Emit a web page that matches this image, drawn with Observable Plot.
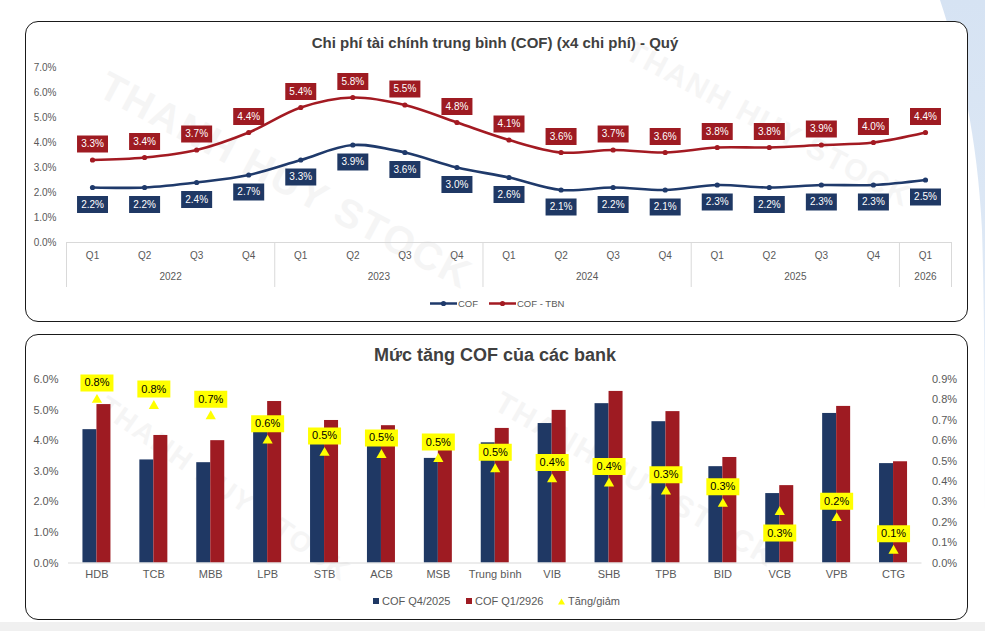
<!DOCTYPE html>
<html><head><meta charset="utf-8">
<script src="https://cdn.jsdelivr.net/npm/d3@7"></script>
<script src="https://cdn.jsdelivr.net/npm/@observablehq/plot@0.6"></script>
<style>
html,body{margin:0;padding:0;background:#fff;overflow:hidden;}
#wrap{position:relative;width:985px;height:631px;overflow:hidden;font-family:"Liberation Sans",Arial,sans-serif;}
.panel{position:absolute;background:#fff;border:1.5px solid #1a1a1a;border-radius:13px;box-sizing:border-box;overflow:hidden;}
.abs{position:absolute;}
.title{position:absolute;font-weight:bold;color:#404040;white-space:nowrap;transform:translate(-50%,-50%);}
.wm{position:absolute;font-weight:bold;color:#f5f5f5;font-size:40px;white-space:nowrap;transform-origin:0 0;letter-spacing:2px;}
.leg{position:absolute;color:#595959;white-space:nowrap;transform:translateY(-50%);}
</style></head>
<body><div id="wrap">
<svg class="abs" style="left:0;top:0" width="985" height="631">
  <defs><linearGradient id="bg1" x1="0" y1="0" x2="0" y2="1">
    <stop offset="0" stop-color="#d6e3f3"/><stop offset="0.7" stop-color="#e3ecf7"/><stop offset="1" stop-color="#ffffff"/></linearGradient></defs>
  <path d="M940,0 C960,60 978,140 982,230 C985,330 985,450 985,600 L985,0 Z" fill="url(#bg1)"/>
</svg>
<div class="panel" style="left:25px;top:21px;width:943px;height:301px;">
  <div class="wm" style="left:87px;top:41px;transform:rotate(28deg);">THANH HUY STOCK</div>
  <div class="wm" style="left:610px;top:12px;transform:rotate(28deg);font-size:30px;">THANH HUY STOCK</div>
</div>
<div class="panel" style="left:25px;top:334px;width:943px;height:286px;">
  <div class="wm" style="left:85px;top:55px;transform:rotate(35deg);font-size:28px;">THANH HUY STOCK</div>
  <div class="wm" style="left:480px;top:50px;transform:rotate(30deg);font-size:30px;">THANH HUY STOCK</div>
</div>
<div class="abs" style="left:0;top:622px;width:985px;height:9px;background:#f0f0f0;"></div>
<div id="top"></div>
<div id="bottom"></div>
<div class="title" style="left:495px;top:42px;font-size:15px;">Chi phí tài chính trung bình (COF) (x4 chi phí) - Quý</div>
<div class="title" style="left:495px;top:355px;font-size:18px;">Mức tăng COF của các bank</div>
</div>
<script>
// ---------- Data: top chart ----------
const periods = ["2022-Q1","2022-Q2","2022-Q3","2022-Q4","2023-Q1","2023-Q2","2023-Q3","2023-Q4",
  "2024-Q1","2024-Q2","2024-Q3","2024-Q4","2025-Q1","2025-Q2","2025-Q3","2025-Q4","2026-Q1"];
const cof    = [2.2,2.2,2.4,2.7,3.3,3.9,3.6,3.0,2.6,2.1,2.2,2.1,2.3,2.2,2.3,2.3,2.5];
const cofTbn = [3.3,3.4,3.7,4.4,5.4,5.8,5.5,4.8,4.1,3.6,3.7,3.6,3.8,3.8,3.9,4.0,4.4];
const topTicks = [0,1,2,3,4,5,6,7];

// ---------- Data: bottom chart ----------
const banks  = ["HDB","TCB","MBB","LPB","STB","ACB","MSB","Trung bình","VIB","SHB","TPB","BID","VCB","VPB","CTG"];
const cofQ4  = [4.36,3.37,3.28,4.68,4.12,3.96,3.42,3.93,4.56,5.21,4.62,3.15,2.27,4.89,3.25];
const cofQ1  = [5.18,4.17,4.00,5.28,4.66,4.49,3.93,4.40,4.99,5.61,4.95,3.45,2.53,5.12,3.31];
const change = [0.80,0.77,0.72,0.60,0.54,0.53,0.51,0.46,0.41,0.39,0.35,0.29,0.25,0.22,0.06];
const labelBelow = ["VCB"];
const leftTicks  = [0,1,2,3,4,5,6];
const rightTicks = [0,0.1,0.2,0.3,0.4,0.5,0.6,0.7,0.8,0.9];
const RMAX = 0.9, LMAX = 6;

const BLUE = "#1f3864", RED = "#9e1b22", LBLUE = "#1f3a6b", LRED = "#a31a22", YEL = "#ffff00";
const boxSym = (w,h) => ({draw(ctx){ctx.moveTo(-w/2,-h/2);ctx.lineTo(w/2,-h/2);ctx.lineTo(w/2,h/2);ctx.lineTo(-w/2,h/2);ctx.closePath();}});

// ---------- Top chart ----------
const topData = periods.map((p,i)=>({p, cof: cof[i], tbn: cofTbn[i]}));
const years = Array.from(new Set(periods.map(p=>p.slice(0,4))));
const yearInfo = years.map(y=>{const qs = periods.filter(p=>p.startsWith(y)); return {y, qs};});
const TW = 985, TH = 300, TL = 66, TR = 34, TT = 67, TB = 58;
const bwTop = (TW-TL-TR)/periods.length;
const fmt1 = d => d.toFixed(1)+"%";

const topPlot = Plot.plot({
  width: TW, height: TH, marginLeft: TL, marginRight: TR, marginTop: TT, marginBottom: TB,
  style: {background:"transparent", overflow:"visible", color:"#595959", fontFamily:"Liberation Sans, Arial, sans-serif"},
  x: {type:"band", domain: periods, padding: 0, round: false, axis: null},
  y: {domain:[0,7], axis: null},
  marks: [
    Plot.axisY(topTicks, {tickSize:0, tickPadding:10, tickFormat: fmt1, fontSize:10, label:null}),
    Plot.ruleY([0], {stroke:"#d9d9d9", strokeWidth:1}),
    Plot.ruleX(yearInfo, {x: d=>d.qs[0], dx: -bwTop/2, insetTop: TH-TT-TB, insetBottom: -45, stroke:"#d9d9d9"}),
    Plot.ruleX([periods[periods.length-1]], {x: d=>d, dx: bwTop/2, insetTop: TH-TT-TB, insetBottom: -45, stroke:"#d9d9d9"}),
    Plot.text(periods, {x: d=>d, text: d=>d.slice(5), frameAnchor:"bottom", dy: 16, fontSize:10, fill:"#595959"}),
    Plot.text(yearInfo.filter(d=>d.qs.length%2===0), {x: d=>d.qs[d.qs.length/2-1], dx: bwTop/2, text: d=>d.y, frameAnchor:"bottom", dy: 37, fontSize:10, fill:"#595959"}),
    Plot.text(yearInfo.filter(d=>d.qs.length%2===1), {x: d=>d.qs[(d.qs.length-1)/2], text: d=>d.y, frameAnchor:"bottom", dy: 37, fontSize:10, fill:"#595959"}),
    Plot.line(topData, {x:"p", y:"tbn", stroke: LRED, strokeWidth: 2.6, curve:"catmull-rom"}),
    Plot.line(topData, {x:"p", y:"cof", stroke: LBLUE, strokeWidth: 2.6, curve:"catmull-rom"}),
    Plot.dot(topData, {x:"p", y:"tbn", r: 2.6, fill: LRED}),
    Plot.dot(topData, {x:"p", y:"cof", r: 2.6, fill: LBLUE}),
    Plot.dot(topData, {x:"p", y:"tbn", symbol: boxSym(31,17), r: 5, fill: RED, dy: -16}),
    Plot.text(topData, {x:"p", y:"tbn", text: d=>fmt1(d.tbn), fill:"#fff", fontSize:10, dy: -16}),
    Plot.dot(topData, {x:"p", y:"cof", symbol: boxSym(31,17), r: 5, fill: BLUE, dy: 17}),
    Plot.text(topData, {x:"p", y:"cof", text: d=>fmt1(d.cof), fill:"#fff", fontSize:10, dy: 17})
  ]
});
topPlot.style.position = "absolute"; topPlot.style.top = "0px"; topPlot.style.left = "0px";
document.getElementById("top").appendChild(topPlot);

// ---------- Bottom chart ----------
const botData = banks.map((b,i)=>({b, q4: cofQ4[i], q1: cofQ1[i], chg: change[i], below: labelBelow.includes(b)}));
const BW = 985, BH = 286, BL = 68, BR = 63.5, BT = 45, BB = 57.5;
const bwBot = (BW-BL-BR)/banks.length;
const half = bwBot/2, barW = 14;
const toLeft = v => v*LMAX/RMAX;

const botPlot = Plot.plot({
  width: BW, height: BH, marginLeft: BL, marginRight: BR, marginTop: BT, marginBottom: BB,
  style: {background:"transparent", overflow:"visible", color:"#595959", fontFamily:"Liberation Sans, Arial, sans-serif"},
  x: {type:"band", domain: banks, padding: 0, round: false, axis: null},
  y: {domain:[0,LMAX], axis: null},
  marks: [
    Plot.axisY(leftTicks, {anchor:"left", tickSize:0, tickPadding:10, tickFormat: fmt1, fontSize:11, label:null}),
    Plot.axisY(rightTicks.map(toLeft), {anchor:"right", tickSize:0, tickPadding:10, tickFormat: d=>(d*RMAX/LMAX).toFixed(1)+"%", fontSize:11, label:null}),
    Plot.axisX(banks, {tickSize:0, tickPadding:7, fontSize:11, label:null}),
    Plot.barY(botData, {x:"b", y:"q4", fill: BLUE, insetLeft: half-barW, insetRight: half}),
    Plot.barY(botData, {x:"b", y:"q1", fill: RED, insetLeft: half, insetRight: half-barW}),
    Plot.ruleY([0], {stroke:"#d9d9d9", strokeWidth:1}),
    Plot.dot(botData, {x:"b", y: d=>toLeft(d.chg), symbol:"triangle", r: 3.8, fill: YEL}),
    Plot.dot(botData.filter(d=>!d.below), {x:"b", y: d=>toLeft(d.chg), symbol: boxSym(33,17), r:5, fill: YEL, dy: -17}),
    Plot.text(botData.filter(d=>!d.below), {x:"b", y: d=>toLeft(d.chg), text: d=>fmt1(d.chg), fill:"#000", fontSize:11, dy: -17}),
    Plot.dot(botData.filter(d=>d.below), {x:"b", y: d=>toLeft(d.chg), symbol: boxSym(33,17), r:5, fill: YEL, dy: 21}),
    Plot.text(botData.filter(d=>d.below), {x:"b", y: d=>toLeft(d.chg), text: d=>fmt1(d.chg), fill:"#000", fontSize:11, dy: 21})
  ]
});
botPlot.style.position = "absolute"; botPlot.style.top = "334px"; botPlot.style.left = "0px";
document.getElementById("bottom").appendChild(botPlot);

// ---------- Legends ----------
const wrap = document.getElementById("wrap");
function addLeg(html, x, y, fs){const d=document.createElement("div");d.className="leg";d.style.left=x+"px";d.style.top=y+"px";d.style.fontSize=fs+"px";d.innerHTML=html;wrap.appendChild(d);}
const lineSw = c => `<svg width="27" height="8" style="vertical-align:middle;margin-right:1px"><line x1="0" y1="4" x2="27" y2="4" stroke="${c}" stroke-width="2.6"/><circle cx="13.5" cy="4" r="2.6" fill="${c}"/></svg>`;
addLeg(lineSw(LBLUE)+"COF", 430, 303, 9.5);
addLeg(lineSw(LRED)+"COF - TBN", 489, 303, 9.5);
const sq = c => `<span style="display:inline-block;width:6px;height:6px;background:${c};margin-right:3px;vertical-align:1px"></span>`;
const tri = `<svg width="7" height="7" style="margin-right:3px;vertical-align:0px"><polygon points="3.5,0.5 7,6.5 0,6.5" fill="${YEL}"/></svg>`;
addLeg(sq(BLUE)+"COF Q4/2025", 373, 601, 11);
addLeg(sq(RED)+"COF Q1/2926", 466, 601, 11);
addLeg(tri+"Tăng/giảm", 558, 601, 11);
</script>
</body></html>
